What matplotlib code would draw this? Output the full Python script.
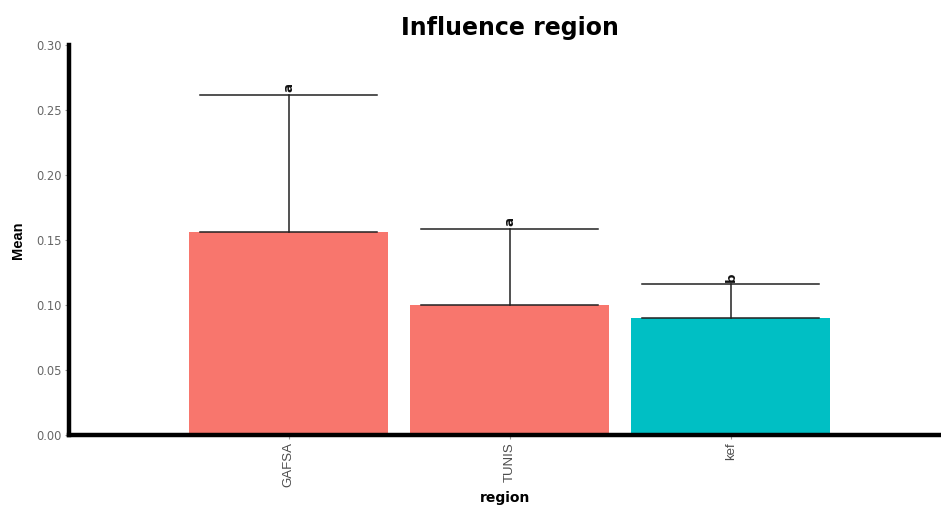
import matplotlib
matplotlib.use("Agg")
import matplotlib.pyplot as plt

# Mean influence per region, standard error and grouping letters
regions = ["GAFSA", "TUNIS", "kef"]
means = [0.156, 0.100, 0.090]
errors = [0.1055, 0.0585, 0.026]
groups = ["a", "a", "b"]
bar_colors = ["#F8766D", "#F8766D", "#00BFC4"]

plt.rcParams["font.family"] = ["Liberation Sans", "DejaVu Sans"]

fig = plt.figure(figsize=(9.41, 5.05), dpi=100)
ax = fig.add_axes([0.0733, 0.1386, 0.9267, 0.7723])

x = list(range(1, len(regions) + 1))
ax.bar(x, means, width=0.9, color=bar_colors, zorder=1)

# Error bars running from the mean up to mean + se, with caps at both ends
cap_half = 0.40
for xi, m, e, g in zip(x, means, errors, groups):
    ax.plot([xi, xi], [m, m + e], color="#222222", lw=1.1, zorder=2)
    ax.plot([xi - cap_half, xi + cap_half], [m + e, m + e], color="#222222", lw=1.1, zorder=2)
    ax.plot([xi - cap_half, xi + cap_half], [m, m], color="#222222", lw=1.1, zorder=2)
    ax.text(xi, m + e + 0.002, g, rotation=90, ha="center", va="bottom",
            fontsize=9.5, fontweight="bold", color="#111111",
            family="DejaVu Sans")

ax.set_xlim(0.007, 3.95)
ax.set_ylim(0, 0.30)
ax.set_xticks(x)
ax.set_xticklabels(regions, rotation=90, fontsize=9.5, color="#4d4d4d")
ax.set_yticks([0.0, 0.05, 0.10, 0.15, 0.20, 0.25, 0.30])
ax.set_yticklabels([f"{v:.2f}" for v in ax.get_yticks()], fontsize=8.3,
                   color="#666666", family="DejaVu Sans")
ax.tick_params(axis="both", length=3, width=0.8, color="#999999", pad=2)

for side in ("top", "right"):
    ax.spines[side].set_visible(False)
for side in ("left", "bottom"):
    ax.spines[side].set_linewidth(3.2)
    ax.spines[side].set_color("black")

ax.set_xlabel("region", fontsize=10, fontweight="bold", labelpad=3,
              family="DejaVu Sans")
ax.set_ylabel("Mean", fontsize=10.5, fontweight="bold", labelpad=8)
fig.text(0.542, 0.945, "Influence region", ha="center", va="center",
         fontsize=17, fontweight="bold", family="DejaVu Sans")

fig.savefig("out.png", dpi=100)
